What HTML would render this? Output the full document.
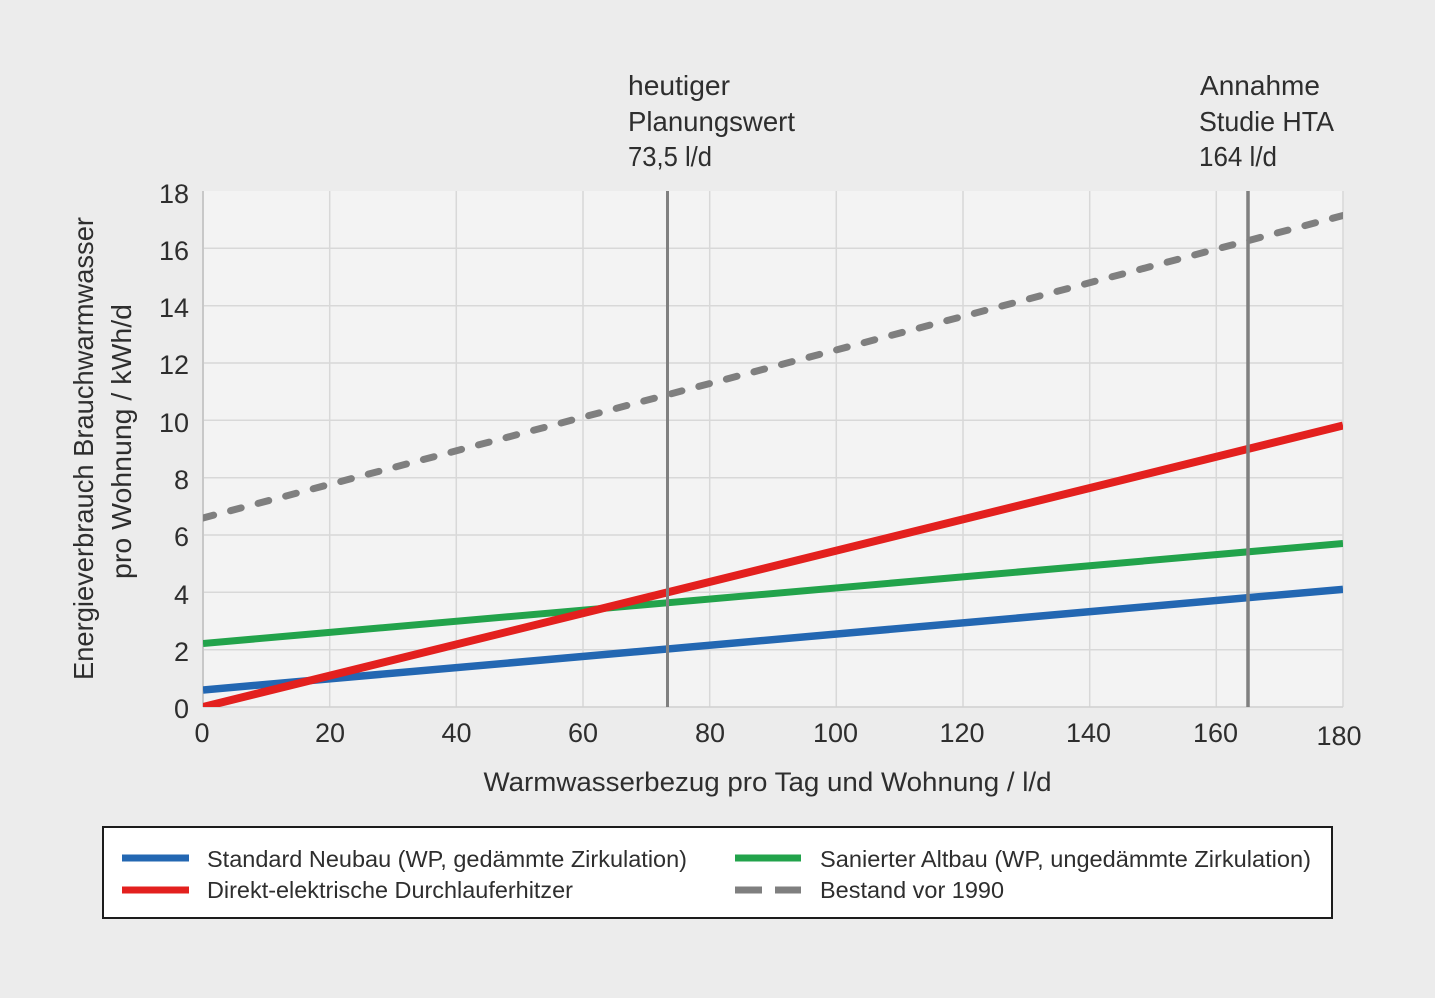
<!DOCTYPE html>
<html>
<head>
<meta charset="utf-8">
<style>
  html,body{margin:0;padding:0;background:#ececec;}
  svg{display:block;}
  text{font-family:"Liberation Sans", sans-serif; fill:#2e2e2e;}
</style>
</head>
<body>
<svg width="1435" height="998" viewBox="0 0 1435 998" xmlns="http://www.w3.org/2000/svg">
  <defs>
    <clipPath id="plot">
      <rect x="203" y="191" width="1140" height="516"/>
    </clipPath>
  </defs>
  <rect x="0" y="0" width="1435" height="998" fill="#ececec"/>
  <!-- plot background -->
  <rect x="203" y="191" width="1140" height="516" fill="#f3f3f3"/>

  <!-- gridlines -->
  <g stroke="#d8d8d8" stroke-width="1.5">
    <line x1="329.7" y1="191" x2="329.7" y2="707"/>
    <line x1="456.3" y1="191" x2="456.3" y2="707"/>
    <line x1="583" y1="191" x2="583" y2="707"/>
    <line x1="709.7" y1="191" x2="709.7" y2="707"/>
    <line x1="836.3" y1="191" x2="836.3" y2="707"/>
    <line x1="963" y1="191" x2="963" y2="707"/>
    <line x1="1089.7" y1="191" x2="1089.7" y2="707"/>
    <line x1="1216.3" y1="191" x2="1216.3" y2="707"/>
    <line x1="1343" y1="191" x2="1343" y2="707"/>
    <line x1="203" y1="649.7" x2="1343" y2="649.7"/>
    <line x1="203" y1="592.3" x2="1343" y2="592.3"/>
    <line x1="203" y1="535" x2="1343" y2="535"/>
    <line x1="203" y1="477.7" x2="1343" y2="477.7"/>
    <line x1="203" y1="420.3" x2="1343" y2="420.3"/>
    <line x1="203" y1="363" x2="1343" y2="363"/>
    <line x1="203" y1="305.7" x2="1343" y2="305.7"/>
    <line x1="203" y1="248.3" x2="1343" y2="248.3"/>
  </g>
  <line x1="203" y1="191" x2="203" y2="707" stroke="#c8c8c8" stroke-width="2"/>
  <line x1="203" y1="707" x2="1343" y2="707" stroke="#d0d0d0" stroke-width="1.5"/>

  <!-- series -->
  <g clip-path="url(#plot)" fill="none">
    <line x1="203" y1="518" x2="1343" y2="215.5" stroke="#7f7f7f" stroke-width="7" stroke-linecap="round" stroke-dasharray="11 17.5"/>
    <line x1="203" y1="643.5" x2="1343" y2="543.5" stroke="#22a34b" stroke-width="7"/>
    <line x1="203" y1="690" x2="1343" y2="589.3" stroke="#2367b2" stroke-width="7.5"/>
    <line x1="203" y1="707" x2="1343" y2="425.5" stroke="#e3201e" stroke-width="8"/>
  </g>

  <!-- reference vertical lines -->
  <line x1="667.5" y1="191" x2="667.5" y2="707" stroke="#808080" stroke-width="3"/>
  <line x1="1248" y1="191" x2="1248" y2="707" stroke="#808080" stroke-width="3.5"/>

  <!-- y tick labels -->
  <g font-size="27" text-anchor="end">
    <text x="189" y="718">0</text>
    <text x="189" y="661">2</text>
    <text x="189" y="604">4</text>
    <text x="189" y="546">6</text>
    <text x="189" y="489">8</text>
    <text x="189" y="432">10</text>
    <text x="189" y="374">12</text>
    <text x="189" y="317">14</text>
    <text x="189" y="260">16</text>
    <text x="189" y="203">18</text>
  </g>

  <!-- x tick labels -->
  <g font-size="27" text-anchor="middle">
    <text x="202" y="742">0</text>
    <text x="330" y="742">20</text>
    <text x="456.5" y="742">40</text>
    <text x="583" y="742">60</text>
    <text x="710" y="742">80</text>
    <text x="835.5" y="742">100</text>
    <text x="962" y="742">120</text>
    <text x="1088.5" y="742">140</text>
    <text x="1215.5" y="742">160</text>
    <text x="1339" y="745">180</text>
  </g>

  <!-- axis titles -->
  <text x="483.5" y="791" font-size="27" textLength="568" lengthAdjust="spacingAndGlyphs">Warmwasserbezug pro Tag und Wohnung / l/d</text>
  <text transform="translate(93,680) rotate(-90)" font-size="28" textLength="463" lengthAdjust="spacingAndGlyphs">Energieverbrauch Brauchwarmwasser</text>
  <text transform="translate(131,579) rotate(-90)" font-size="28" textLength="275" lengthAdjust="spacingAndGlyphs">pro Wohnung / kWh/d</text>

  <!-- annotations -->
  <g font-size="28">
    <text x="628" y="95" textLength="102" lengthAdjust="spacingAndGlyphs">heutiger</text>
    <text x="628" y="131" textLength="167" lengthAdjust="spacingAndGlyphs">Planungswert</text>
    <text x="628" y="166" textLength="84" lengthAdjust="spacingAndGlyphs">73,5 l/d</text>
    <text x="1200" y="95" textLength="120" lengthAdjust="spacingAndGlyphs">Annahme</text>
    <text x="1199" y="131" textLength="135" lengthAdjust="spacingAndGlyphs">Studie HTA</text>
    <text x="1199" y="166" textLength="78" lengthAdjust="spacingAndGlyphs">164 l/d</text>
  </g>

  <!-- legend -->
  <rect x="103" y="827" width="1229" height="91" fill="#ffffff" stroke="#1c1c1c" stroke-width="2"/>
  <line x1="122" y1="858" x2="189" y2="858" stroke="#2367b2" stroke-width="7"/>
  <line x1="122" y1="890" x2="189" y2="890" stroke="#e3201e" stroke-width="7"/>
  <line x1="735" y1="858" x2="801" y2="858" stroke="#22a34b" stroke-width="7"/>
  <line x1="735" y1="890" x2="762" y2="890" stroke="#7f7f7f" stroke-width="7"/>
  <line x1="775" y1="890" x2="801" y2="890" stroke="#7f7f7f" stroke-width="7"/>
  <g font-size="23">
    <text x="207" y="867" textLength="480" lengthAdjust="spacingAndGlyphs">Standard Neubau (WP, gedämmte Zirkulation)</text>
    <text x="207" y="898" textLength="366" lengthAdjust="spacingAndGlyphs">Direkt-elektrische Durchlauferhitzer</text>
    <text x="820" y="867" textLength="491" lengthAdjust="spacingAndGlyphs">Sanierter Altbau (WP, ungedämmte Zirkulation)</text>
    <text x="820" y="898" textLength="184" lengthAdjust="spacingAndGlyphs">Bestand vor 1990</text>
  </g>
</svg>
</body>
</html>
